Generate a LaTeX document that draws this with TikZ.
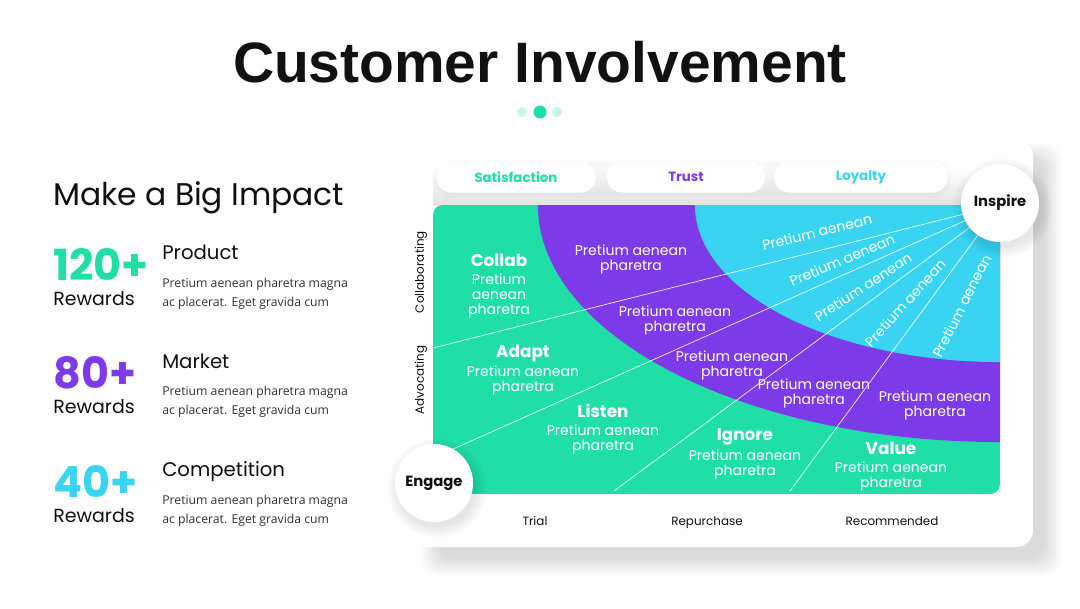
\documentclass[tikz,border=0pt]{standalone}
\usepackage{fontspec}
\setmainfont{Poppins}
\newfontfamily\titlefont{Liberation Sans}
\newfontfamily\bodyfont{Open Sans}
\usetikzlibrary{positioning}

\definecolor{engageteal}{RGB}{32,223,166}
\definecolor{trustpurple}{RGB}{124,58,232}
\definecolor{loyalcyan}{RGB}{56,212,242}
\definecolor{palemint}{RGB}{202,245,232}
\definecolor{inkblack}{RGB}{17,17,17}
\definecolor{softgray}{RGB}{50,50,50}

\newcommand{\cellhead}[1]{{\bfseries\fontsize{12}{10.7}\selectfont #1}}

\begin{document}
\begin{tikzpicture}[
    x=0.025cm, y=-0.025cm,
    every node/.style={inner sep=0pt, text=inkblack},
    pill/.style={rectangle, rounded corners=10.5pt, fill=white,
      minimum height=0.775cm, font=\bfseries\fontsize{9.5}{11}\selectfont},
    hub/.style={circle, fill=white, minimum size=1.95cm,
      font=\bfseries\fontsize{10.5}{12}\selectfont},
    cell/.style={align=center, text=white, font=\fontsize{10}{10.7}\selectfont},
    tag/.style={text=white, font=\fontsize{10}{12}\selectfont},
    axislbl/.style={font=\fontsize{8.5}{10}\selectfont},
    ray/.style={draw=white, line width=0.5pt, opacity=0.9},
    bignum/.style={font=\bfseries\fontsize{30.5}{32}\selectfont, anchor=base west},
    rewards/.style={font=\fontsize{13.5}{15}\selectfont, anchor=base west},
    cat/.style={font=\fontsize{14}{16}\selectfont, anchor=base west},
    desc/.style={font=\bodyfont\fontsize{8.7}{11}\selectfont, text=softgray, anchor=base west},
    navdot/.style={circle, fill=palemint, minimum size=0.25cm}
  ]
  \fill[white] (0,0) rectangle (1080,608);
  \useasboundingbox (0,0) rectangle (1080,608);

  % card and its shadow
  \foreach \k in {1,...,12}
    \fill[black, opacity=0.011, rounded corners=12pt]
      (440-1.6*\k, 162-1.6*\k) rectangle (1043+1.6*\k, 557+1.6*\k);
  \fill[white, rounded corners=12pt] (410,140) rectangle (1033,547);

  % header pills
  \shade[top color=white, bottom color=black!11] (433,170) rectangle (1000,205);
  \foreach \k in {1,...,4}
    \fill[black, opacity=0.008, rounded corners=12pt]
      (437-\k, 164-\k) rectangle (948+\k, 194+\k);
  \node[pill, minimum width=3.975cm, text=engageteal] (satis) at (516,177) {Satisfaction};
  \node[pill, minimum width=3.95cm, text=trustpurple] (trust) at (686,177) {Trust};
  \node[pill, minimum width=4.325cm, text=loyalcyan] (loyal) at (861,177) {Loyalty};

  % chart bands
  \begin{scope}
    \clip[rounded corners=7pt] (433,205) rectangle (1000,494);
    \fill[engageteal] (433,205) rectangle (1000,494);
    \fill[trustpurple] (1000,205) ellipse [x radius=11.55cm, y radius=5.925cm];
    \fill[loyalcyan] (1000,205) ellipse [x radius=7.625cm, y radius=3.925cm];
  \end{scope}

  \coordinate (apex) at (1000,205);
  \coordinate (end1) at (433,348);
  \coordinate (end2) at (433,458);
  \coordinate (end3) at (614,491);
  \coordinate (end4) at (790,491);
  \draw[ray] (apex) -- (end1);
  \draw[ray] (apex) -- (end2);
  \draw[ray] (apex) -- (end3);
  \draw[ray] (apex) -- (end4);

  % outer band
  \node[cell] (collab) at (499,286) {\cellhead{Collab}\\[2pt]Pretium\\aenean\\pharetra};
  \node[cell] (adapt) at (523,370) {\cellhead{Adapt}\\[2pt]Pretium aenean\\pharetra};
  \node[cell] (listen) at (603,429) {\cellhead{Listen}\\[2pt]Pretium aenean\\pharetra};
  \node[cell] (ignore) at (745,454) {\cellhead{Ignore}\\[2pt]Pretium aenean\\pharetra};
  \node[cell] (value) at (891,467) {\cellhead{Value}\\[2pt]Pretium aenean\\pharetra};

  % middle band
  \node[cell] (mid1) at (631,259) {Pretium aenean\\pharetra};
  \node[cell] (mid2) at (675,320) {Pretium aenean\\pharetra};
  \node[cell] (mid3) at (732,365) {Pretium aenean\\pharetra};
  \node[cell] (mid4) at (814,393) {Pretium aenean\\pharetra};
  \node[cell] (mid5) at (935,405) {Pretium aenean\\pharetra};

  % inner band
  \node[tag, rotate=14] (in1) at (817,232) {Pretium aenean};
  \node[tag, rotate=23] (in2) at (842,260) {Pretium aenean};
  \node[tag, rotate=33] (in3) at (863,287) {Pretium aenean};
  \node[tag, rotate=48] (in4) at (905,303) {Pretium aenean};
  \node[tag, rotate=63] (in5) at (962,306) {Pretium aenean};

  % corner hubs
  \foreach \hx/\hy in {1000/203, 434/483}
    \foreach \k in {1,...,8}
      \fill[black, opacity=0.012] (\hx+3,\hy+5) circle [radius={(38+1.5*\k)*0.711pt}];
  \node[hub] (inspire) at (1000,203) {Inspire};
  \node[hub] (engage) at (434,483) {Engage};

  % axis labels
  \node[axislbl, rotate=90] (collabaxis) at (421,272) {Collaborating};
  \node[axislbl, rotate=90] (advaxis) at (421,380) {Advocating};
  \node[axislbl, anchor=base] (trial) at (535,525) {Trial};
  \node[axislbl, anchor=base] (repurch) at (707,525) {Repurchase};
  \node[axislbl, anchor=base] (recomm) at (892,525) {Recommended};

  % title
  \node[font=\titlefont\bfseries\fontsize{40.5}{44}\selectfont, anchor=base] (title) at (540,82) {Customer Involvement};
  \node[navdot] (dotl) at (522,112) {};
  \node[navdot, fill=engageteal, minimum size=0.325cm] (dotm) at (540,112) {};
  \node[navdot] (dotr) at (557,112) {};

  % left column
  \node[font=\fontsize{22.3}{26}\selectfont, anchor=base west] (impact) at (53,205) {Make a Big Impact};

  \node[bignum, text=engageteal] (num1) at (53,280) {120+};
  \node[rewards] (rew1) at (53,305) {Rewards};
  \node[cat] (cat1) at (162,259.5) {Product};
  \node[desc] (desc1a) at (162,287) {Pretium aenean pharetra magna};
  \node[desc] (desc1b) at (162,306) {ac placerat. Eget gravida cum};

  \node[bignum, text=trustpurple] (num2) at (53,388.5) {80+};
  \node[rewards] (rew2) at (53,413.5) {Rewards};
  \node[cat] (cat2) at (162,368) {Market};
  \node[desc] (desc2a) at (162,395.5) {Pretium aenean pharetra magna};
  \node[desc] (desc2b) at (162,414.5) {ac placerat. Eget gravida cum};

  \node[bignum, text=loyalcyan] (num3) at (53,497) {40+};
  \node[rewards] (rew3) at (53,522) {Rewards};
  \node[cat] (cat3) at (162,476.5) {Competition};
  \node[desc] (desc3a) at (162,504) {Pretium aenean pharetra magna};
  \node[desc] (desc3b) at (162,523) {ac placerat. Eget gravida cum};
\end{tikzpicture}
\end{document}
